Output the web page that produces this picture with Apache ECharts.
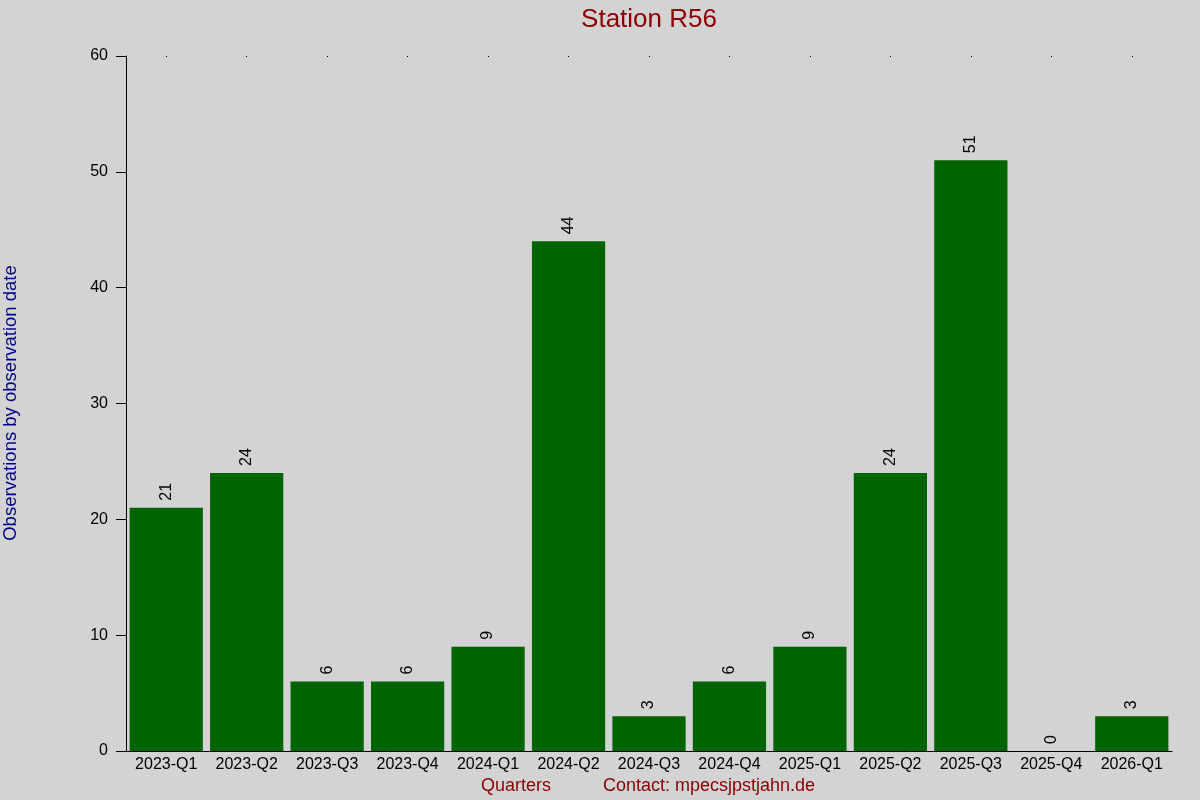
<!DOCTYPE html>
<html><head><meta charset="utf-8">
<script src="https://cdn.jsdelivr.net/npm/echarts@6/dist/echarts.min.js"></script>
<style>html,body{margin:0;padding:0;background:#d3d3d3;}#c{width:1200px;height:800px;}</style>
</head><body><div id="c"></div>
<script>
const categories = ["2023-Q1","2023-Q2","2023-Q3","2023-Q4","2024-Q1","2024-Q2","2024-Q3","2024-Q4","2025-Q1","2025-Q2","2025-Q3","2025-Q4","2026-Q1"];
const observations = [21,24,6,6,9,44,3,6,9,24,51,0,3];
const yTicks = {min:0, max:60, interval:10};
const font = "Liberation Sans, Arial, sans-serif";
const chart = echarts.init(document.getElementById('c'));
chart.setOption({
  backgroundColor:'#d3d3d3',
  animation:false,
  title:{text:'Station R56', left:644, top:2, textAlign:'center',
    textStyle:{color:'#8b0000', fontSize:26, fontWeight:'normal', fontFamily:font}},
  grid:{left:126, right:28, top:56, bottom:49},
  graphic:[
    {type:'text', left:481, top:777, style:{text:'Quarters', fill:'#8b0000', font:'18px '+font}},
    {type:'text', left:603, top:777, style:{text:'Contact: mpecsjpstjahn.de', fill:'#8b0000', font:'18px '+font}},
    {type:'text', x:11, y:403, rotation:Math.PI/2, style:{text:'Observations by observation date', fill:'#00008b', font:'18.5px '+font, align:'center', verticalAlign:'middle'}}
  ],
  xAxis:[{type:'category', data:categories,
    axisLine:{show:true, lineStyle:{color:'#000', width:1}},
    axisTick:{show:false},
    axisLabel:{color:'#000', fontSize:16, fontFamily:font, margin:6, interval:0},
    splitLine:{show:false}},
   {type:'category', data:categories, position:'top', gridIndex:0,
    axisLine:{show:false}, axisTick:{show:true, alignWithLabel:true, length:1, inside:true, lineStyle:{color:'#000'}},
    axisLabel:{show:false}}],
  yAxis:{type:'value', min:yTicks.min, max:yTicks.max, interval:yTicks.interval,
    axisLine:{show:true, lineStyle:{color:'#000', width:1}},
    axisTick:{show:true, length:10, lineStyle:{color:'#000'}},
    axisLabel:{color:'#000', fontSize:16, fontFamily:font, margin:18},
    splitLine:{show:false}},
  series:[{type:'bar', data:observations, barCategoryGap:'9%',
    itemStyle:{color:'#006400'},
    label:{show:true, position:'top', rotate:90, align:'left', verticalAlign:'middle', distance:7,
      color:'#000', fontSize:16, fontFamily:font}}]
});
</script></body></html>
